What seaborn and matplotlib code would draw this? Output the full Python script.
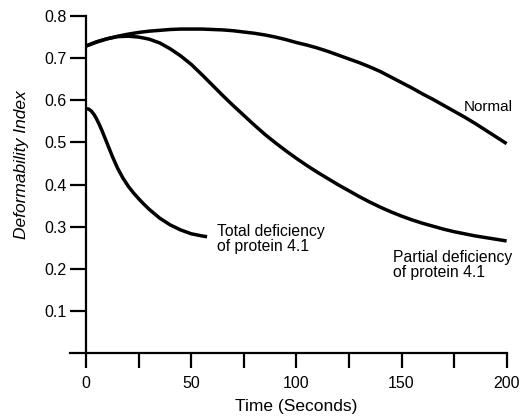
import matplotlib

matplotlib.use("Agg")

import matplotlib.pyplot as plt
import seaborn as sns

# values
normal_time = [0, 5, 10, 15, 20, 25, 30, 35, 40, 45, 50, 55, 60, 65, 70, 75, 80, 85, 90, 95, 100,
               105, 110, 115, 120, 125, 130, 135, 140, 145, 150, 155, 160, 165, 170, 175, 180,
               185, 190, 195, 200]
normal_index = [0.729, 0.738, 0.746, 0.752, 0.757, 0.761, 0.764, 0.766, 0.768, 0.769, 0.769,
                0.769, 0.768, 0.767, 0.765, 0.762, 0.759, 0.755, 0.750, 0.744, 0.737,
                0.731, 0.724, 0.716, 0.707, 0.698, 0.689, 0.679, 0.668, 0.655, 0.642,
                0.629, 0.615, 0.602, 0.588, 0.574, 0.560, 0.545, 0.529, 0.513, 0.497]

partial_time = [0, 5, 10, 15, 20, 25, 30, 35, 40, 45, 50, 55, 60, 65, 70, 75, 80, 85, 90, 95, 100,
                105, 110, 115, 120, 125, 130, 135, 140, 145, 150, 155, 160, 165, 170, 175, 180,
                185, 190, 195, 200]
partial_index = [0.729, 0.739, 0.746, 0.751, 0.752, 0.750, 0.745, 0.736, 0.722, 0.705, 0.685,
                 0.661, 0.636, 0.611, 0.587, 0.564, 0.541, 0.519, 0.499, 0.480, 0.462,
                 0.445, 0.429, 0.414, 0.399, 0.385, 0.371, 0.358, 0.346, 0.335, 0.325,
                 0.316, 0.308, 0.301, 0.294, 0.288, 0.283, 0.278, 0.274, 0.270, 0.266]

total_time = [0, 1.25, 2.5, 3.75, 5, 6.25, 7.5, 10, 12.5, 15, 17.5, 20, 22.5, 25, 27.5, 30,
              35, 40, 45, 50, 55, 57.5]
total_index = [0.580, 0.579, 0.574, 0.566, 0.555, 0.542, 0.528, 0.497, 0.466, 0.438, 0.415,
               0.396, 0.380, 0.366, 0.353, 0.341, 0.320, 0.304, 0.292, 0.283, 0.278, 0.276]

x_major = [0, 50, 100, 150, 200]
x_minor = [25, 75, 125, 175]
y_ticks = [0.1, 0.2, 0.3, 0.4, 0.5, 0.6, 0.7, 0.8]

sns.set_theme(style="ticks")
plt.rcParams["font.family"] = ["Liberation Sans", "DejaVu Sans"]
plt.rcParams["text.color"] = "black"
plt.rcParams["axes.labelcolor"] = "black"
plt.rcParams["xtick.color"] = "black"
plt.rcParams["ytick.color"] = "black"

fig = plt.figure(figsize=(5.21, 4.2), dpi=100)
ax = fig.add_axes([0.1344, 0.1595, 0.838, 0.8024])

line_kw = dict(color="black", linewidth=2.5, ax=ax, legend=False)
sns.lineplot(x=normal_time, y=normal_index, **line_kw)
sns.lineplot(x=partial_time, y=partial_index, **line_kw)
sns.lineplot(x=total_time, y=total_index, **line_kw)
for ln in ax.lines:
    ln.set_clip_on(False)
    ln.set_solid_capstyle("butt")
    ln.set_solid_joinstyle("round")

ax.set_xlim(-7.7, 200)
ax.set_ylim(0, 0.8)
ax.spines["left"].set_position(("data", 0))
ax.spines["top"].set_visible(False)
ax.spines["right"].set_visible(False)
for side in ["left", "bottom"]:
    ax.spines[side].set_linewidth(1.6)
    ax.spines[side].set_color("black")

ax.set_xticks(x_major)
ax.set_xticks(x_minor, minor=True)
ax.set_yticks(y_ticks)
ax.set_yticklabels([f"{v:.1f}" for v in y_ticks])
ax.tick_params(axis="x", which="both", direction="out", length=10.5, width=1.6,
               labelsize=11.5, pad=6, color="black", labelcolor="black")
ax.tick_params(axis="y", direction="out", length=11.5, width=1.6,
               labelsize=11.5, pad=2.5, color="black", labelcolor="black")

ax.set_xlabel("Time (Seconds)", fontsize=12.5, color="black")
ax.xaxis.set_label_coords(0.519, -0.135)
ax.set_ylabel("Deformability Index", fontsize=12.5, style="italic", color="black")
ax.yaxis.set_label_coords(-0.095, 0.56)

ax.text(179.7, 0.584, "Normal", fontsize=11, ha="left", va="center", color="black")
ax.text(62.1, 0.271, "Total deficiency\nof protein 4.1", fontsize=11.3,
        ha="left", va="center", linespacing=1.0, color="black")
ax.text(145.9, 0.209, "Partial deficiency\nof protein 4.1", fontsize=11.3,
        ha="left", va="center", linespacing=1.0, color="black")

fig.savefig("out.png", dpi=100, facecolor="white")
